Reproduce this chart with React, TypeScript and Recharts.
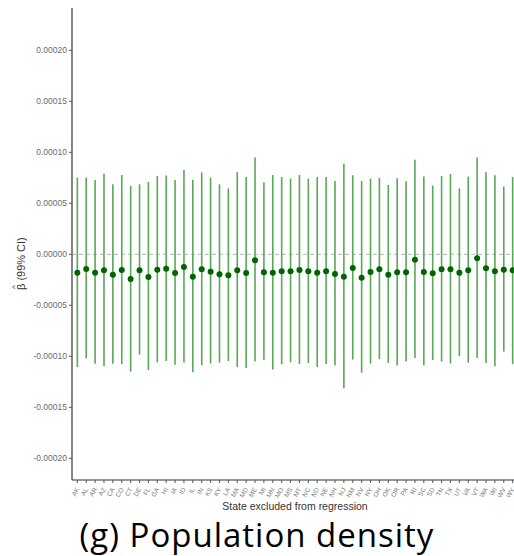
import {
  ComposedChart,
  Scatter,
  ErrorBar,
  XAxis,
  YAxis,
  ReferenceLine,
} from 'recharts';

const states = [
  'AK', 'AL', 'AR', 'AZ', 'CA', 'CO', 'CT', 'DE', 'FL', 'GA',
  'HI', 'IA', 'ID', 'IL', 'IN', 'KS', 'KY', 'LA', 'MA', 'MD',
  'ME', 'MI', 'MN', 'MO', 'MS', 'MT', 'NC', 'ND', 'NE', 'NH',
  'NJ', 'NM', 'NV', 'NY', 'OH', 'OK', 'OR', 'PA', 'RI', 'SC',
  'SD', 'TN', 'TX', 'UT', 'VA', 'VT', 'WA', 'WI', 'WV', 'WY',
];

// point estimates
const estimates = [
  -1.80e-5, -1.44e-5, -1.80e-5, -1.57e-5, -2.00e-5, -1.54e-5, -2.42e-5, -1.57e-5, -2.23e-5, -1.51e-5,
  -1.41e-5, -1.83e-5, -1.25e-5, -2.19e-5, -1.47e-5, -1.70e-5, -1.96e-5, -2.06e-5, -1.57e-5, -1.83e-5,
  -0.59e-5, -1.76e-5, -1.80e-5, -1.67e-5, -1.67e-5, -1.54e-5, -1.67e-5, -1.80e-5, -1.67e-5, -1.93e-5,
  -2.19e-5, -1.34e-5, -2.29e-5, -1.74e-5, -1.47e-5, -2.00e-5, -1.76e-5, -1.76e-5, -0.53e-5, -1.74e-5,
  -1.86e-5, -1.47e-5, -1.47e-5, -1.80e-5, -1.57e-5, -0.39e-5, -1.37e-5, -1.67e-5, -1.51e-5, -1.57e-5,
];

// 99% CI lower bounds
const lower = [
  -11.05e-5, -10.20e-5, -10.72e-5, -10.95e-5, -10.72e-5, -10.78e-5, -11.50e-5, -9.83e-5, -11.34e-5, -10.59e-5,
  -10.46e-5, -10.82e-5, -10.62e-5, -11.57e-5, -10.88e-5, -10.72e-5, -10.62e-5, -10.46e-5, -11.05e-5, -11.15e-5,
  -10.52e-5, -10.36e-5, -11.30e-5, -10.78e-5, -10.59e-5, -10.75e-5, -10.65e-5, -11.05e-5, -10.75e-5, -10.88e-5,
  -13.14e-5, -10.32e-5, -11.60e-5, -10.72e-5, -10.29e-5, -10.65e-5, -10.88e-5, -10.52e-5, -10.16e-5, -10.88e-5,
  -10.36e-5, -10.52e-5, -10.72e-5, -9.97e-5, -10.62e-5, -10.16e-5, -10.65e-5, -10.98e-5, -9.54e-5, -10.75e-5,
];

// 99% CI upper bounds
const upper = [
  7.52e-5, 7.52e-5, 7.28e-5, 7.91e-5, 6.86e-5, 7.77e-5, 6.70e-5, 6.86e-5, 7.09e-5, 7.68e-5,
  7.72e-5, 7.28e-5, 8.26e-5, 7.32e-5, 8.04e-5, 7.52e-5, 6.86e-5, 6.47e-5, 8.07e-5, 7.58e-5,
  9.48e-5, 7.06e-5, 7.77e-5, 7.58e-5, 7.42e-5, 7.77e-5, 7.42e-5, 7.58e-5, 7.58e-5, 7.19e-5,
  8.89e-5, 7.75e-5, 7.19e-5, 7.42e-5, 7.48e-5, 6.80e-5, 7.45e-5, 7.16e-5, 9.28e-5, 7.62e-5,
  6.74e-5, 7.68e-5, 7.87e-5, 6.47e-5, 7.62e-5, 9.48e-5, 8.04e-5, 7.75e-5, 6.64e-5, 7.58e-5,
];

const yTicks = [-0.0002, -0.00015, -0.0001, -0.00005, 0, 0.00005, 0.0001, 0.00015, 0.0002];

const data = states.map((s, i) => ({
  idx: i,
  state: s,
  est: estimates[i],
  err: [estimates[i] - lower[i], upper[i] - estimates[i]],
}));

const FONT = 'Liberation Sans, Arial, sans-serif';

const StateTick = (props: any) => {
  const { x, y, payload } = props;
  return (
    <text
      x={x}
      y={y + 3}
      transform={`rotate(-60 ${x} ${y + 3})`}
      textAnchor="end"
      dominantBaseline="central"
      fontSize={6.5}
      fill="#777"
      fontFamily={FONT}
    >
      {states[payload.value]}
    </text>
  );
};

// beta-hat drawn as beta plus a small caret above it (rotated frame)
const YLabel = () => (
  <g transform="translate(21, 290) rotate(-90)">
    <text x={0} y={0} textAnchor="start" dominantBaseline="central" fontSize={11} fill="#333" fontFamily={FONT}>
      {'\u03B2 (99% CI)'}
    </text>
    <text x={3} y={-6.5} textAnchor="middle" dominantBaseline="central" fontSize={8} fill="#333" fontFamily={FONT}>
      ^
    </text>
  </g>
);

const Dot = (props: any) => <circle cx={props.cx} cy={props.cy} r={3} fill="#006400" />;

export default function App() {
  return (
    <div
      style={{
        position: 'absolute',
        left: 0,
        top: 0,
        width: 514,
        height: 556,
        overflow: 'hidden',
        background: '#fff',
      }}
    >
      <ComposedChart
        width={518}
        height={520}
        data={data}
        margin={{ top: 8, right: 0, bottom: 0, left: 0 }}
      >
        <XAxis
          dataKey="idx"
          type="number"
          domain={[-0.6, 49.6]}
          ticks={states.map((_, i) => i)}
          interval={0}
          tick={<StateTick />}
          tickSize={3}
          tickLine={{ stroke: '#555' }}
          axisLine={{ stroke: '#333', strokeWidth: 1.2 }}
          height={40}
          label={{
            value: 'State excluded from regression',
            position: 'insideBottom',
            offset: 10,
            fontSize: 10.5,
            fill: '#333',
            fontFamily: FONT,
          }}
        />
        <YAxis
          type="number"
          domain={[-0.0002213, 0.0002415]}
          ticks={yTicks}
          interval={0}
          width={72}
          tickFormatter={(v: number) => v.toFixed(5)}
          tick={{ fontSize: 8.5, fill: '#6b6b6b', fontFamily: FONT }}
          tickSize={3}
          tickLine={{ stroke: '#555' }}
          axisLine={{ stroke: '#333', strokeWidth: 1.2 }}
          label={<YLabel />}
          allowDataOverflow
        />
        <ReferenceLine y={0} stroke="#b5b5b5" strokeDasharray="4 3" strokeWidth={1} />
        <Scatter dataKey="est" shape={<Dot />} isAnimationActive={false}>
          <ErrorBar
            dataKey="err"
            direction="y"
            width={0}
            stroke="#58a858"
            strokeWidth={1.6}
            isAnimationActive={false}
          />
        </Scatter>
      </ComposedChart>
      <div
        style={{
          position: 'absolute',
          left: 0,
          top: 521,
          width: 514,
          textAlign: 'center',
          fontFamily: '"Open Sans", "Noto Sans", sans-serif',
          fontSize: 33,
          letterSpacing: '1px',
          lineHeight: '28px',
          color: '#000',
          whiteSpace: 'nowrap',
        }}
      >
        (g) Population density
      </div>
    </div>
  );
}
